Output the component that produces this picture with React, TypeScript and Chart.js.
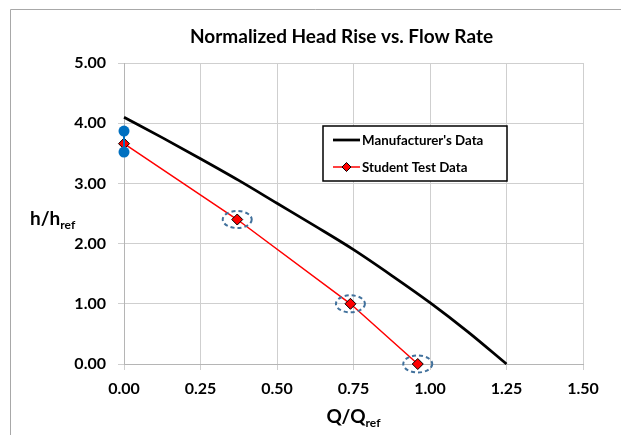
import React, { useEffect, useRef } from "react";
import { Chart, registerables } from "chart.js";

Chart.register(...registerables);

// ---- data ----
const chartTitle = "Normalized Head Rise vs. Flow Rate";
const manufacturerLabel = "Manufacturer's Data";
const studentLabel = "Student Test Data";

const manufacturerQ = [0, 0.125, 0.25, 0.375, 0.5, 0.625, 0.75, 0.875, 1.0, 1.125, 1.25];
const manufacturerH = [4.1, 3.76, 3.41, 3.05, 2.67, 2.29, 1.9, 1.47, 1.02, 0.53, 0.0];

const studentQ = [0, 0.37, 0.74, 0.96];
const studentH = [3.66, 2.4, 1.0, 0.0];

// repeated shut-off head readings (blue)
const repeatQ = [0, 0];
const repeatH = [3.87, 3.52];

// student points marked with dashed ellipses
const circledIdx = [1, 2, 3];

const xMin = 0;
const xMax = 1.5;
const xStep = 0.25;
const yMin = 0;
const yMax = 5;
const yStep = 1;

const FONT = "Lato, 'Open Sans', sans-serif";

const toPts = (xs: number[], ys: number[]) => xs.map((x, i) => ({ x, y: ys[i] }));

const framePlugin = {
  id: "frame",
  beforeDraw(chart: any) {
    const { ctx, width, height } = chart;
    ctx.save();
    ctx.fillStyle = "#ffffff";
    ctx.fillRect(0, 0, width, height);
    ctx.strokeStyle = "#a8a8a8";
    ctx.lineWidth = 1;
    ctx.beginPath();
    ctx.moveTo(10.5, height);
    ctx.lineTo(10.5, 9.5);
    ctx.lineTo(width, 9.5);
    ctx.stroke();
    ctx.restore();
  },
};

const ellipsePlugin = {
  id: "ellipses",
  afterDatasetsDraw(chart: any) {
    const { ctx } = chart;
    const xs = chart.scales.x;
    const ys = chart.scales.y;
    ctx.save();
    ctx.strokeStyle = "#41719C";
    ctx.lineWidth = 2;
    ctx.setLineDash([4, 3]);
    circledIdx.forEach((i) => {
      const cx = xs.getPixelForValue(studentQ[i]);
      const cy = ys.getPixelForValue(studentH[i]);
      ctx.beginPath();
      ctx.ellipse(cx, cy, 14.5, 8.5, 0, 0, Math.PI * 2);
      ctx.stroke();
    });
    ctx.restore();
  },
};

const drawSubscripted = (
  ctx: CanvasRenderingContext2D,
  main: string,
  sub: string,
  x: number,
  y: number,
  align: "left" | "center"
) => {
  ctx.font = `bold 19px ${FONT}`;
  const wMain = ctx.measureText(main).width;
  ctx.font = `bold 12px ${FONT}`;
  const wSub = ctx.measureText(sub).width;
  const start = align === "center" ? x - (wMain + wSub) / 2 : x;
  ctx.textAlign = "left";
  ctx.textBaseline = "alphabetic";
  ctx.fillStyle = "#000000";
  ctx.font = `bold 19px ${FONT}`;
  ctx.fillText(main, start, y);
  ctx.font = `bold 12px ${FONT}`;
  ctx.fillText(sub, start + wMain, y + 4);
};

const textPlugin = {
  id: "texts",
  afterDraw(chart: any) {
    const { ctx, chartArea } = chart;
    ctx.save();
    // title
    ctx.fillStyle = "#000000";
    ctx.font = `bold 19px ${FONT}`;
    ctx.textAlign = "center";
    ctx.textBaseline = "alphabetic";
    ctx.fillText(chartTitle, 341.5, 43);

    // axis titles
    drawSubscripted(ctx, "h/h", "ref", 30, 225, "left");
    drawSubscripted(ctx, "Q/Q", "ref", (chartArea.left + chartArea.right) / 2, 423, "center");

    // legend
    const bx = 323;
    const by = 126;
    const bw = 184;
    const bh = 55;
    ctx.fillStyle = "#ffffff";
    ctx.fillRect(bx, by, bw, bh);
    ctx.strokeStyle = "#000000";
    ctx.lineWidth = 1.5;
    ctx.strokeRect(bx, by, bw, bh);

    const ds = chart.data.datasets;
    const entries = [ds[2], ds[1]];
    entries.forEach((d: any, k: number) => {
      const y = by + 14 + k * 27;
      ctx.strokeStyle = d.borderColor;
      ctx.lineWidth = d.borderWidth;
      ctx.beginPath();
      ctx.moveTo(bx + 10, y);
      ctx.lineTo(bx + 37, y);
      ctx.stroke();
      if (d.pointRadius > 0) {
        const cx = bx + 23.5;
        const r = 4.5;
        ctx.beginPath();
        ctx.moveTo(cx, y - r);
        ctx.lineTo(cx + r, y);
        ctx.lineTo(cx, y + r);
        ctx.lineTo(cx - r, y);
        ctx.closePath();
        ctx.fillStyle = d.pointBackgroundColor;
        ctx.fill();
        ctx.strokeStyle = d.pointBorderColor;
        ctx.lineWidth = 1;
        ctx.stroke();
      }
      ctx.fillStyle = "#000000";
      ctx.font = `bold 13.3px ${FONT}`;
      ctx.textAlign = "left";
      ctx.textBaseline = "middle";
      ctx.fillText(d.label, bx + 39, y + 1);
    });
    ctx.restore();
  },
};

const zeroPad = (scale: any) => {
  scale.paddingTop = 0;
  scale.paddingBottom = 0;
  scale.paddingLeft = 0;
  scale.paddingRight = 0;
};

export default function App() {
  const canvasRef = useRef<HTMLCanvasElement | null>(null);

  useEffect(() => {
    if (!canvasRef.current) return;
    const chart = new Chart(canvasRef.current, {
      type: "scatter",
      data: {
        datasets: [
          {
            label: "Repeat",
            data: toPts(repeatQ, repeatH),
            showLine: true,
            clip: false,
            borderColor: "#0070C0",
            backgroundColor: "#0070C0",
            borderWidth: 2,
            pointRadius: 5.5,
            pointBackgroundColor: "#0070C0",
            pointBorderColor: "#0070C0",
            pointBorderWidth: 0,
            order: 0,
          },
          {
            label: studentLabel,
            data: toPts(studentQ, studentH),
            showLine: true,
            clip: false,
            borderColor: "#FF0000",
            backgroundColor: "#FF0000",
            borderWidth: 1.5,
            pointStyle: "rectRot",
            pointRadius: 5.5,
            pointBackgroundColor: "#FF0000",
            pointBorderColor: "#000000",
            pointBorderWidth: 1,
            order: 1,
          },
          {
            label: manufacturerLabel,
            data: toPts(manufacturerQ, manufacturerH),
            showLine: true,
            clip: false,
            cubicInterpolationMode: "monotone",
            borderColor: "#000000",
            backgroundColor: "#000000",
            borderWidth: 2.75,
            pointRadius: 0,
            order: 2,
          },
        ],
      },
      options: {
        responsive: false,
        animation: false,
        devicePixelRatio: 1,
        layout: { padding: { left: 0, right: 38, top: 63, bottom: 0 } },
        plugins: {
          legend: { display: false },
          title: { display: false },
          tooltip: { enabled: false },
        },
        scales: {
          x: {
            type: "linear",
            min: xMin,
            max: xMax,
            afterFit: (s: any) => {
              s.height = 71;
              zeroPad(s);
            },
            ticks: {
              stepSize: xStep,
              padding: 9,
              color: "#000000",
              font: { family: FONT, size: 16, weight: "bold" },
              callback: (v: any) => Number(v).toFixed(2),
            },
            grid: { color: "#cfcfcf", lineWidth: 1, tickLength: 6, drawTicks: true },
            border: { color: "#b5b5b5", width: 1 },
          },
          y: {
            type: "linear",
            min: yMin,
            max: yMax,
            afterFit: (s: any) => {
              s.width = 124;
              zeroPad(s);
            },
            ticks: {
              stepSize: yStep,
              padding: 12,
              color: "#000000",
              font: { family: FONT, size: 16, weight: "bold" },
              callback: (v: any) => Number(v).toFixed(2),
            },
            grid: { color: "#cfcfcf", lineWidth: 1, tickLength: 6, drawTicks: true },
            border: { color: "#b5b5b5", width: 1 },
          },
        },
      },
      plugins: [framePlugin, ellipsePlugin, textPlugin],
    });
    return () => chart.destroy();
  }, []);

  return (
    <div style={{ position: "fixed", left: 0, top: 0, width: 621, height: 435, background: "#fff" }}>
      <canvas ref={canvasRef} width={621} height={435} style={{ display: "block" }} />
    </div>
  );
}
